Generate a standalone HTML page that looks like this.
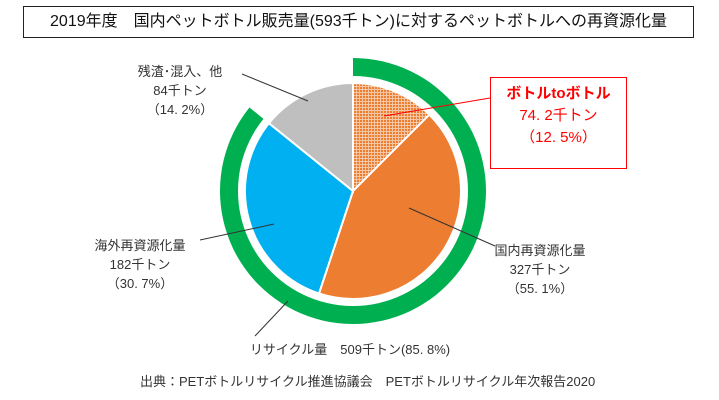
<!DOCTYPE html>
<html><head><meta charset="utf-8">
<style>
body{margin:0;background:#fff;font-family:"Liberation Sans","Noto Sans CJK JP",sans-serif;}
#wrap{position:relative;width:719px;height:400px;overflow:hidden;background:#fff}
.t{position:absolute;font-size:13px;color:#333;text-align:center;line-height:19px;white-space:nowrap}
</style></head><body>
<div id="wrap">
<div style="position:absolute;left:23px;top:6px;width:671px;height:32px;border:1.5px solid #222;box-sizing:border-box;font-size:16px;line-height:29px;text-align:center;color:#111">2019年度　国内ペットボトル販売量(593千トン)に対するペットボトルへの再資源化量</div>
<svg id="svg" width="719" height="400" style="position:absolute;left:0;top:0">
<defs><pattern id="dots" width="3" height="3" patternUnits="userSpaceOnUse"><rect width="3" height="3" fill="#f4c6a4"/><rect width="2" height="2" fill="#ed7d31"/></pattern></defs>
<g id="pie"></g>
</svg>
<div class="t" style="left:120px;top:62px;width:120px">残渣･混入、他<br>84千トン<br>（14. 2%）</div>
<div class="t" style="left:80px;top:236px;width:120px">海外再資源化量<br>182千トン<br>（30. 7%）</div>
<div class="t" style="left:480px;top:241px;width:120px">国内再資源化量<br>327千トン<br>（55. 1%）</div>
<div class="t" style="left:240px;top:340px;width:220px">リサイクル量　509千トン(85. 8%)</div>
<div style="position:absolute;left:490px;top:77px;width:137px;height:92px;border:1.5px solid #f00;box-sizing:border-box;background:#fff;color:#f00;text-align:center;font-size:15px;line-height:22px;padding-top:5px"><b>ボトルtoボトル</b><br>74. 2千トン<br>（12. 5%）</div>
<div class="t" style="left:140px;top:372px;width:440px;font-size:13px">出典：PETボトルリサイクル推進協議会　PETボトルリサイクル年次報告2020</div>
</div>
<script>
const categories=["ボトルtoボトル","国内再資源化(その他)","海外再資源化量","残渣･混入、他"];
const values=[12.5,42.6,30.7,14.2];
const ringValue=[85.8];
const colors=["url(#dots)","#ed7d31","#00b0f0","#bfbfbf"];
const cx=353,cy=191,r=108,r1=115,r2=133;
const g=document.getElementById('pie');
const NS="http://www.w3.org/2000/svg";
function pt(a,rad){const t=a/100*2*Math.PI;return [cx+rad*Math.sin(t),cy-rad*Math.cos(t)];}
const total=values.reduce((a,b)=>a+b,0);
let acc=0;
values.forEach((v,i)=>{
  const a0=acc/total*100,a1=(acc+v)/total*100;acc+=v;
  const p0=pt(a0,r),p1=pt(a1,r);
  const p=document.createElementNS(NS,'path');
  p.setAttribute('d',`M${cx},${cy}L${p0[0]},${p0[1]}A${r},${r} 0 ${a1-a0>50?1:0} 1 ${p1[0]},${p1[1]}Z`);
  p.setAttribute('fill',colors[i]);p.setAttribute('stroke','#fff');p.setAttribute('stroke-width','2');
  
  
  g.appendChild(p);
});
const e=ringValue[0];
const o0=pt(0,r2),o1=pt(e,r2),i1=pt(e,r1),i0=pt(0,r1);
const ring=document.createElementNS(NS,'path');
ring.setAttribute('d',`M${o0[0]},${o0[1]}A${r2},${r2} 0 1 1 ${o1[0]},${o1[1]}L${i1[0]},${i1[1]}A${r1},${r1} 0 1 0 ${i0[0]},${i0[1]}Z`);
ring.setAttribute('fill','#00b050');


g.appendChild(ring);
const lines=[[384,116,490,98,'#f00'],[308,101,242,74,'#333'],[274,224,200,240,'#333'],[409,208,495,246,'#333'],[288,301,255,336,'#333']];
lines.forEach(l=>{const ln=document.createElementNS(NS,'line');
ln.setAttribute('x1',l[0]);ln.setAttribute('y1',l[1]);ln.setAttribute('x2',l[2]);ln.setAttribute('y2',l[3]);
ln.setAttribute('stroke',l[4]);ln.setAttribute('stroke-width','1');


g.appendChild(ln);});
</script>
</body></html>
